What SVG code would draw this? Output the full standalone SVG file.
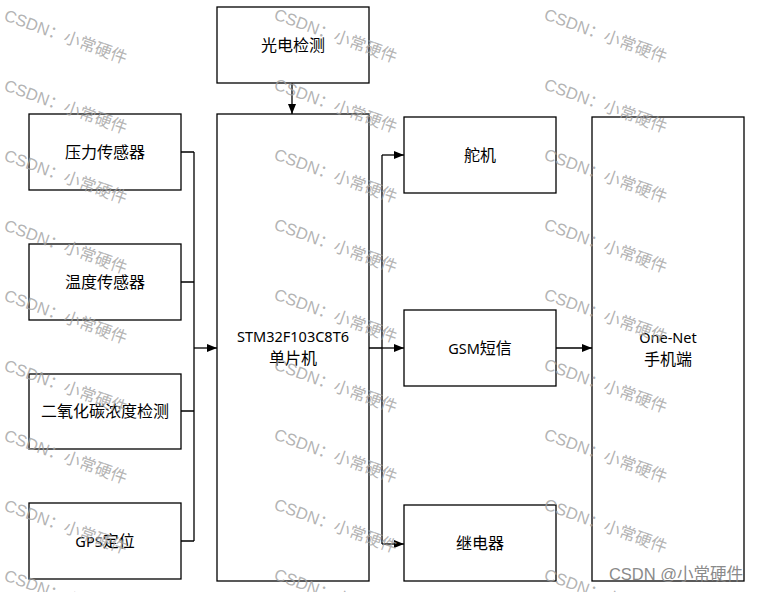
<svg xmlns="http://www.w3.org/2000/svg" width="758" height="592" viewBox="0 0 758 592">
<style>
.box{fill:#fff;stroke:#000;stroke-width:1.3}
.t{font-family:"Noto Sans","Noto Sans CJK SC",sans-serif;font-size:16px;fill:#000;text-anchor:middle}
.l{font-size:14.5px}
.c{fill:none;stroke:#000;stroke-width:1.3}
.wm{font-family:"Liberation Sans","Noto Sans CJK SC",sans-serif;font-size:16.5px;fill:#a0a0a0;fill-opacity:0.8}
</style>
<defs>
<marker id="ah" markerWidth="10" markerHeight="8" refX="10" refY="4" orient="auto" markerUnits="userSpaceOnUse">
<path d="M0,0 L10,4 L0,8 Z" fill="#000"/>
</marker>
</defs>
<rect width="758" height="592" fill="#fff"/>
<g id="n-light"><rect class="box" x="217" y="7" width="152" height="76"/><text class="t" x="293" y="51">光电检测</text></g>
<g id="n-mcu"><rect class="box" x="217" y="114" width="152" height="467"/><text class="t l" x="293" y="342">STM32F103C8T6</text><text class="t" x="293" y="364">单片机</text></g>
<g id="n-pressure"><rect class="box" x="29" y="114" width="152" height="76"/><text class="t" x="105" y="158">压力传感器</text></g>
<g id="n-temp"><rect class="box" x="29" y="244" width="152" height="76"/><text class="t" x="105" y="288">温度传感器</text></g>
<g id="n-co2"><rect class="box" x="29" y="374" width="152" height="75"/><text class="t" x="105" y="417">二氧化碳浓度检测</text></g>
<g id="n-gps"><rect class="box" x="29" y="503" width="152" height="76"/><text class="t" x="105" y="547"><tspan class="l">GPS</tspan>定位</text></g>
<g id="n-servo"><rect class="box" x="404" y="117" width="152" height="76"/><text class="t" x="480" y="161">舵机</text></g>
<g id="n-gsm"><rect class="box" x="404" y="310" width="152" height="76"/><text class="t" x="480" y="354"><tspan class="l">GSM</tspan>短信</text></g>
<g id="n-relay"><rect class="box" x="404" y="505" width="152" height="76"/><text class="t" x="480" y="549">继电器</text></g>
<g id="n-onenet"><rect class="box" x="592" y="117" width="152" height="464"/><text class="t l" x="668" y="343">One-Net</text><text class="t" x="668" y="365">手机端</text></g>
<g id="connectors">
<path class="c" d="M292,83 V114" marker-end="url(#ah)"/>
<path class="c" d="M181,152 H194 M181,282 H194 M181,411 H194 M181,541 H194 M194,152 V541"/>
<path class="c" d="M194,348 H217" marker-end="url(#ah)"/>
<path class="c" d="M369,348 H382 M382,155 V544"/>
<path class="c" d="M382,155 H404" marker-end="url(#ah)"/>
<path class="c" d="M382,348 H404" marker-end="url(#ah)"/>
<path class="c" d="M382,544 H404" marker-end="url(#ah)"/>
<path class="c" d="M556,348 H592" marker-end="url(#ah)"/>
</g>
<g id="watermark">
<text class="wm" x="3" y="20" transform="rotate(20 3 20)">CSDN：小常硬件</text>
<text class="wm" x="3" y="90" transform="rotate(20 3 90)">CSDN：小常硬件</text>
<text class="wm" x="3" y="160" transform="rotate(20 3 160)">CSDN：小常硬件</text>
<text class="wm" x="3" y="230" transform="rotate(20 3 230)">CSDN：小常硬件</text>
<text class="wm" x="3" y="300" transform="rotate(20 3 300)">CSDN：小常硬件</text>
<text class="wm" x="3" y="370" transform="rotate(20 3 370)">CSDN：小常硬件</text>
<text class="wm" x="3" y="440" transform="rotate(20 3 440)">CSDN：小常硬件</text>
<text class="wm" x="3" y="510" transform="rotate(20 3 510)">CSDN：小常硬件</text>
<text class="wm" x="3" y="580" transform="rotate(20 3 580)">CSDN：小常硬件</text>
<text class="wm" x="273" y="19" transform="rotate(20 273 19)">CSDN：小常硬件</text>
<text class="wm" x="273" y="89" transform="rotate(20 273 89)">CSDN：小常硬件</text>
<text class="wm" x="273" y="159" transform="rotate(20 273 159)">CSDN：小常硬件</text>
<text class="wm" x="273" y="229" transform="rotate(20 273 229)">CSDN：小常硬件</text>
<text class="wm" x="273" y="299" transform="rotate(20 273 299)">CSDN：小常硬件</text>
<text class="wm" x="273" y="369" transform="rotate(20 273 369)">CSDN：小常硬件</text>
<text class="wm" x="273" y="439" transform="rotate(20 273 439)">CSDN：小常硬件</text>
<text class="wm" x="273" y="509" transform="rotate(20 273 509)">CSDN：小常硬件</text>
<text class="wm" x="273" y="579" transform="rotate(20 273 579)">CSDN：小常硬件</text>
<text class="wm" x="543" y="19" transform="rotate(20 543 19)">CSDN：小常硬件</text>
<text class="wm" x="543" y="89" transform="rotate(20 543 89)">CSDN：小常硬件</text>
<text class="wm" x="543" y="159" transform="rotate(20 543 159)">CSDN：小常硬件</text>
<text class="wm" x="543" y="229" transform="rotate(20 543 229)">CSDN：小常硬件</text>
<text class="wm" x="543" y="299" transform="rotate(20 543 299)">CSDN：小常硬件</text>
<text class="wm" x="543" y="369" transform="rotate(20 543 369)">CSDN：小常硬件</text>
<text class="wm" x="543" y="439" transform="rotate(20 543 439)">CSDN：小常硬件</text>
<text class="wm" x="543" y="509" transform="rotate(20 543 509)">CSDN：小常硬件</text>
<text class="wm" x="543" y="579" transform="rotate(20 543 579)">CSDN：小常硬件</text>
<text x="743" y="580" text-anchor="end" font-family="'Liberation Sans','Noto Sans CJK SC',sans-serif" font-size="16.5" fill="#8a8a8a">CSDN @小常硬件</text>
</g>
</svg>
